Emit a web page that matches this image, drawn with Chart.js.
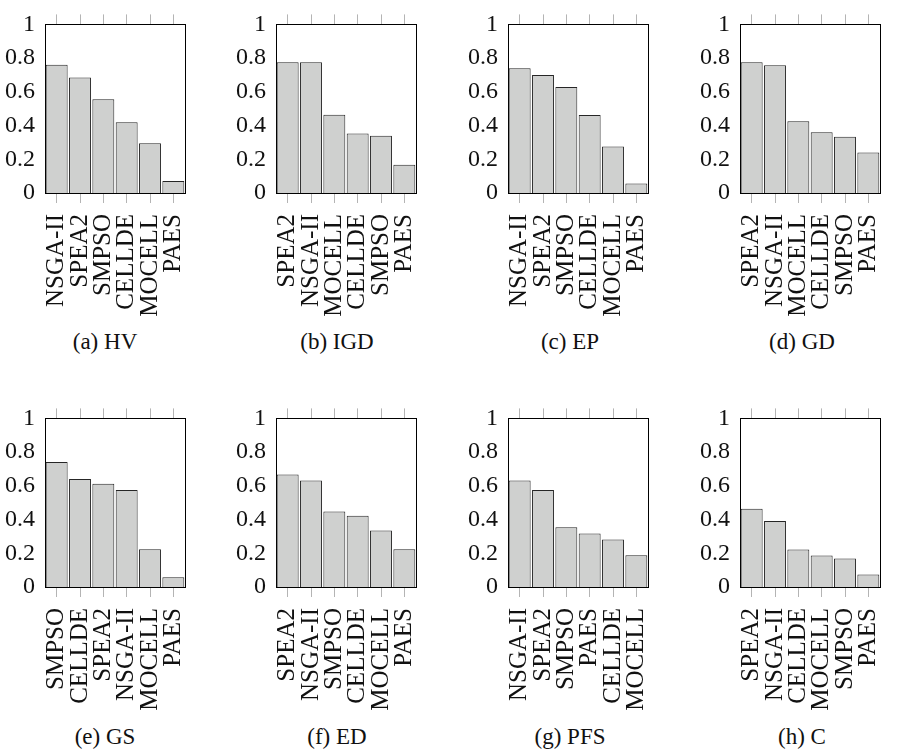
<!DOCTYPE html>
<html>
<head>
<meta charset="utf-8">
<script src="https://cdn.jsdelivr.net/npm/chart.js@4.4.1/dist/chart.umd.min.js"></script>
<style>
  html, body { margin: 0; padding: 0; background: #fff; }
  #wrap { position: relative; width: 913px; height: 753px; overflow: hidden; }
  canvas { position: absolute; }
  .cap { position: absolute; width: 200px; text-align: center; font: 23px "Liberation Serif", serif; color: #111; line-height: 24px; }
</style>
</head>
<body>
<div id="wrap"></div>
<script>
// values, one pair of arrays per metric
const catsHV  = ["NSGA-II", "SPEA2", "SMPSO", "CELLDE", "MOCELL", "PAES"];
const valsHV  = [0.76, 0.685, 0.556, 0.42, 0.295, 0.071];
const catsIGD = ["SPEA2", "NSGA-II", "MOCELL", "CELLDE", "SMPSO", "PAES"];
const valsIGD = [0.776, 0.776, 0.464, 0.353, 0.34, 0.167];
const catsEP  = ["NSGA-II", "SPEA2", "SMPSO", "CELLDE", "MOCELL", "PAES"];
const valsEP  = [0.74, 0.70, 0.629, 0.462, 0.276, 0.056];
const catsGD  = ["SPEA2", "NSGA-II", "MOCELL", "CELLDE", "SMPSO", "PAES"];
const valsGD  = [0.776, 0.758, 0.425, 0.36, 0.333, 0.24];
const catsGS  = ["SMPSO", "CELLDE", "SPEA2", "NSGA-II", "MOCELL", "PAES"];
const valsGS  = [0.741, 0.641, 0.612, 0.575, 0.224, 0.058];
const catsED  = ["SPEA2", "NSGA-II", "SMPSO", "CELLDE", "MOCELL", "PAES"];
const valsED  = [0.668, 0.632, 0.448, 0.423, 0.335, 0.224];
const catsPFS = ["NSGA-II", "SPEA2", "SMPSO", "PAES", "CELLDE", "MOCELL"];
const valsPFS = [0.632, 0.576, 0.355, 0.317, 0.282, 0.188];
const catsC   = ["SPEA2", "NSGA-II", "CELLDE", "MOCELL", "SMPSO", "PAES"];
const valsC   = [0.464, 0.391, 0.222, 0.187, 0.169, 0.074];

const captions = ["(a) HV", "(b) IGD", "(c) EP", "(d) GD", "(e) GS", "(f) ED", "(g) PFS", "(h) C"];
const yMin = 0, yMax = 1, yStep = 0.2;

const panels = [
  [catsHV, valsHV], [catsIGD, valsIGD], [catsEP, valsEP], [catsGD, valsGD],
  [catsGS, valsGS], [catsED, valsED], [catsPFS, valsPFS], [catsC, valsC]
];

// plot-area placement in the page
const colLeft = [45, 276, 508, 740];
const rowTop = [10, 404];
const capCenter = [105, 337, 570, 802];
const capTop = [330, 725];
const plotW = 170, plotH = 183;
const yAxisW = 45, topAxisH = 10, botAxisH = 130;

const wrap = document.getElementById("wrap");
const serif = "'Liberation Serif', serif";
const tickGray = "#b4b4b4";

panels.forEach(([cats, vals], i) => {
  const col = i % 4, row = Math.floor(i / 4);
  const cv = document.createElement("canvas");
  const w = yAxisW + plotW + 2, h = topAxisH + plotH + botAxisH;
  cv.width = w; cv.height = h;
  cv.style.left = (colLeft[col] - yAxisW) + "px";
  cv.style.top = (rowTop[row] - topAxisH) + "px";
  cv.style.width = w + "px"; cv.style.height = h + "px";
  wrap.appendChild(cv);

  const cap = document.createElement("div");
  cap.className = "cap";
  cap.textContent = captions[i];
  cap.style.left = (capCenter[col] - 100) + "px";
  cap.style.top = capTop[row] + "px";
  wrap.appendChild(cap);

  new Chart(cv, {
    type: "bar",
    data: {
      labels: cats,
      datasets: [{
        data: vals,
        backgroundColor: "#cfd0cf",
        borderColor: "#262626",
        borderWidth: 1,
        barPercentage: 0.94,
        categoryPercentage: 1
      }]
    },
    options: {
      responsive: false,
      animation: false,
      devicePixelRatio: 1,
      layout: { padding: { left: 0, right: 2, top: 0, bottom: 0 } },
      plugins: { legend: { display: false }, tooltip: { enabled: false } },
      scales: {
        x: {
          position: "bottom",
          offset: true,
          grid: { drawOnChartArea: false, offset: false, tickLength: 10, color: tickGray, lineWidth: 1 },
          border: { display: true, color: "#000", width: 1 },
          ticks: {
            autoSkip: false, minRotation: 90, maxRotation: 90, padding: 11,
            color: "#111", font: { family: serif, size: 25 }
          },
          afterFit: s => { s.height = botAxisH; }
        },
        x2: {
          type: "category",
          labels: cats,
          position: "top",
          offset: true,
          grid: { drawOnChartArea: false, offset: false, tickLength: 10, color: tickGray, lineWidth: 1 },
          border: { display: true, color: "#000", width: 1 },
          ticks: { display: false },
          afterFit: s => { s.height = topAxisH; }
        },
        y: {
          position: "left",
          min: yMin, max: yMax,
          grid: { display: false, drawTicks: false },
          border: { display: true, color: "#000", width: 1 },
          ticks: {
            stepSize: yStep, padding: 10, color: "#111", font: { family: serif, size: 24 },
            callback: v => String(Math.round(v * 10) / 10)
          },
          afterFit: s => { s.width = yAxisW; }
        },
        y2: {
          position: "right",
          min: yMin, max: yMax,
          grid: { display: false, drawTicks: false },
          border: { display: true, color: "#000", width: 1 },
          ticks: { display: false },
          afterFit: s => { s.width = 0; }
        }
      }
    }
  });
});
</script>
</body>
</html>
